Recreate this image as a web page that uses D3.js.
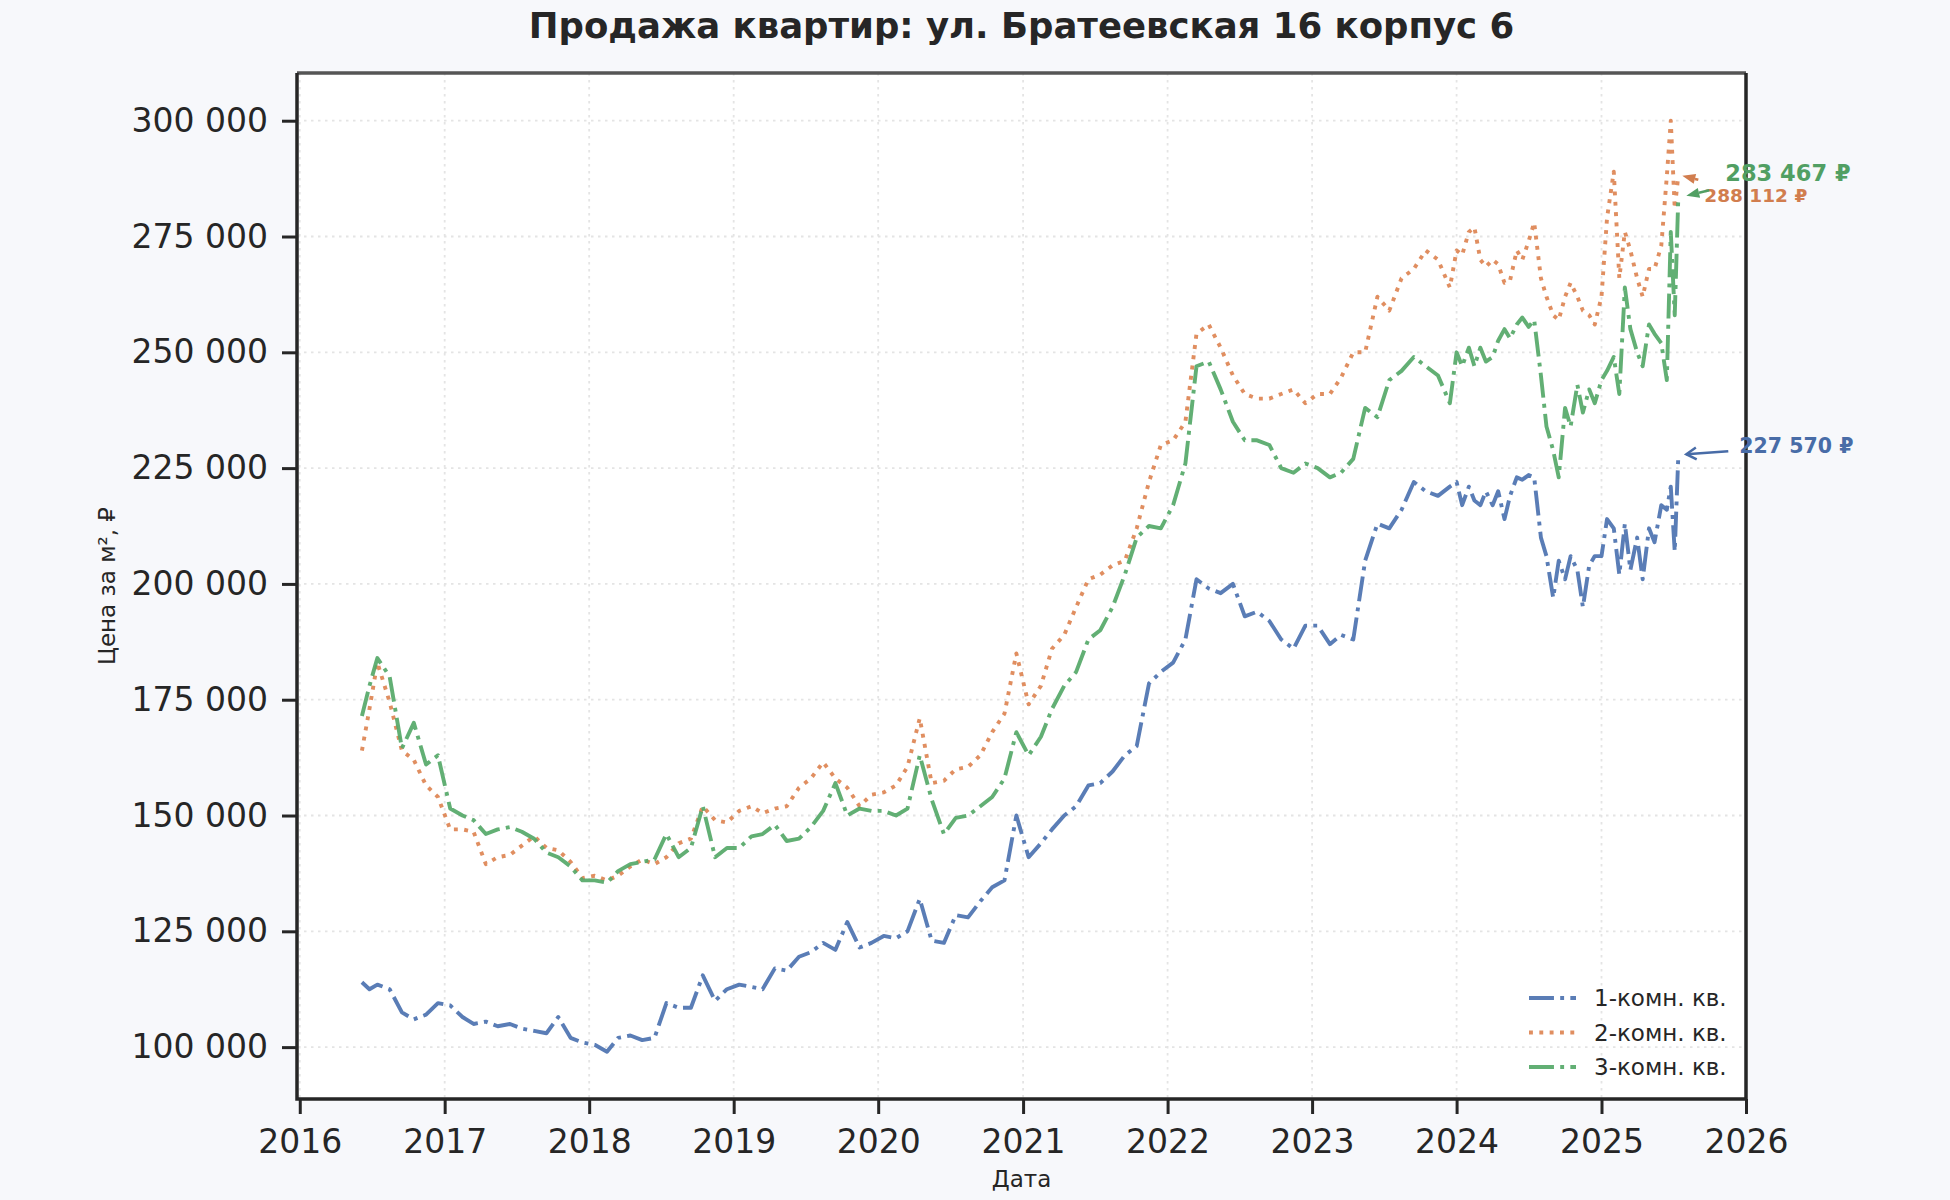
<!DOCTYPE html>
<html>
<head>
<meta charset="utf-8">
<script src="https://cdn.jsdelivr.net/npm/d3@7"></script>
<style>
  html, body { margin: 0; padding: 0; background: #f7f8fb; }
  svg { display: block; font-family: "DejaVu Sans", sans-serif; }
</style>
</head>
<body>
<svg id="chart" width="1950" height="1200"></svg>
<script>
// --- data (prices per m², thousands of rubles) ---
const title = "Продажа квартир: ул. Братеевская 16 корпус 6";
const seriesNames = ["1-комн. кв.", "2-комн. кв.", "3-комн. кв."];

const dates = [
  "2016-06-06", "2016-06-25", "2016-07-15", "2016-08-15", "2016-09-15", "2016-10-15", "2016-11-15", "2016-12-15",
  "2017-01-15", "2017-02-15", "2017-03-15", "2017-04-15", "2017-05-15", "2017-06-15", "2017-07-15", "2017-08-15", "2017-09-15", "2017-10-15", "2017-11-15", "2017-12-15",
  "2018-01-15", "2018-02-15", "2018-03-15", "2018-04-15", "2018-05-15", "2018-06-15", "2018-07-15", "2018-08-15", "2018-09-15", "2018-10-15", "2018-11-15", "2018-12-15",
  "2019-01-15", "2019-02-15", "2019-03-15", "2019-04-15", "2019-05-15", "2019-06-15", "2019-07-15", "2019-08-15", "2019-09-15", "2019-10-15", "2019-11-15", "2019-12-15",
  "2020-01-15", "2020-02-15", "2020-03-15", "2020-04-15", "2020-05-15", "2020-06-15", "2020-07-15", "2020-08-15", "2020-09-15", "2020-10-15", "2020-11-15", "2020-12-15",
  "2021-01-15", "2021-02-15", "2021-03-15", "2021-04-15", "2021-05-15", "2021-06-15", "2021-07-15", "2021-08-15", "2021-09-15", "2021-10-15", "2021-11-15", "2021-12-15",
  "2022-01-15", "2022-02-15", "2022-03-15", "2022-04-15", "2022-05-15", "2022-06-15", "2022-07-15", "2022-08-15", "2022-09-15", "2022-10-15", "2022-11-15", "2022-12-15",
  "2023-01-15", "2023-02-15", "2023-03-15", "2023-04-15", "2023-05-15", "2023-06-15", "2023-07-15", "2023-08-15", "2023-09-15", "2023-10-15", "2023-11-15", "2023-12-15",
  "2024-01-01", "2024-01-15", "2024-02-01", "2024-02-15", "2024-03-01", "2024-03-15", "2024-04-01", "2024-04-15", "2024-05-01", "2024-05-15", "2024-06-01", "2024-06-15",
  "2024-07-01", "2024-07-15", "2024-08-01", "2024-08-15", "2024-09-01", "2024-09-15", "2024-10-01", "2024-10-15", "2024-11-01", "2024-11-15", "2024-12-01", "2024-12-15",
  "2025-01-01", "2025-01-15", "2025-02-01", "2025-02-15", "2025-03-01", "2025-03-15", "2025-04-01", "2025-04-15", "2025-05-01", "2025-05-15",
  "2025-06-01", "2025-06-15", "2025-06-25", "2025-07-05", "2025-07-14"
];

const room1 = [
  114, 112.5, 113.5, 112.5, 107.5, 106, 107, 109.5,
  109, 106.5, 105, 105.5, 104.5, 105, 104, 103.5, 103, 106.5, 102, 101,
  100.5, 99, 102, 102.5, 101.5, 102, 109.5, 108.5, 108.5, 115.5, 110, 112.5,
  113.5, 113, 112.5, 117, 116.5, 119.5, 120.5, 122.5, 121, 127, 121.5, 122.5,
  124, 123.5, 125, 132, 123, 122.5, 128.5, 128, 131.5, 134.5, 136, 150,
  141, 144, 147, 150, 152, 156.5, 157, 159.5, 163, 165, 178.5, 181,
  183, 188, 201, 199, 198, 200, 193, 194, 192, 188, 186, 191,
  191, 187, 189, 188, 205, 213, 212, 216, 222, 220, 219, 221,
  222, 217, 221, 218, 217, 220, 217, 220, 214, 219, 223, 222.5,
  223.5, 223, 210, 206, 197, 205, 201, 206, 203, 195, 204, 206,
  206, 214, 212, 202, 213, 203, 210, 201, 212, 209,
  217, 216, 221, 207, 227.57
];

const room2 = [
  164, 173, 183, 174.5, 164, 162, 156.5, 154,
  147, 147, 146.5, 139.5, 141, 141.5, 143.5, 145.5, 143, 142.5, 140, 136.5,
  137, 136, 137, 139, 140.5, 139.5, 141, 144, 145, 152, 149, 148.5,
  151, 152, 150.5, 151.5, 152, 156, 158, 161.5, 158, 156, 152, 154.5,
  155, 156.5, 160.5, 171, 157, 157.5, 160, 160.5, 163, 168, 172, 185,
  174, 178, 186, 189, 195, 201, 202, 204, 205, 212, 222, 230,
  231, 235, 254, 256, 251, 245, 241, 240, 240, 241, 242, 239,
  241, 241, 244.5, 250, 250, 262, 259, 266, 268, 272, 270, 264,
  272, 271, 276, 277, 270, 268.5, 270, 269, 265, 265.5, 272, 270,
  274, 278, 266, 262, 258, 257, 262, 265, 262, 259, 258, 256,
  262, 279, 289, 266, 276, 272, 266, 262, 268, 268,
  273, 288, 300, 281, 288.112
];

const room3 = [
  171.5, 178, 184, 180, 164.5, 170, 161, 163,
  151.5, 150, 149, 146, 147, 147.5, 146.5, 145, 142, 141, 139, 136,
  136, 135.5, 138, 139.5, 140, 140.5, 146, 141, 143, 152, 141, 143,
  143, 145.5, 146, 148, 144.5, 145, 147.5, 151, 157, 150, 151.5, 151,
  151, 150, 151.5, 163, 153.5, 146, 149.5, 150, 152, 154, 158, 168,
  163, 167, 173, 178, 181, 188, 190, 195, 202, 210, 212.5, 212,
  217, 226, 247, 248, 242, 235, 231, 231, 230, 225, 224, 226,
  225, 223, 224, 227, 238, 236, 244, 246, 249, 247, 245, 239,
  250, 247, 251, 247, 251, 248, 249, 252.5, 255, 253, 256, 257.5,
  255.5, 257, 245, 234, 228.8, 223, 238, 234, 243, 237, 242, 239,
  244, 246, 249, 241, 264, 255, 250, 247, 256, 254,
  252, 244, 276, 258, 283.467
];

const yTicks = [100000, 125000, 150000, 175000, 200000, 225000, 250000, 275000, 300000];
const xTickYears = [2016, 2017, 2018, 2019, 2020, 2021, 2022, 2023, 2024, 2025, 2026];

// --- layout ---
const W = 1950, H = 1200;
const plot = { left: 297, top: 73, right: 1746, bottom: 1099 };
const ink = "#262626";
const lw = 3.9;

const styles = [
  { color: "#4c72b0", dash: [6.4 * lw, 1.6 * lw, 1 * lw, 1.6 * lw] },
  { color: "#dd8452", dash: [1 * lw, 1.65 * lw] },
  { color: "#55a868", dash: [6.4 * lw, 1.6 * lw, 1 * lw, 1.6 * lw] }
];

const parse = d3.timeParse("%Y-%m-%d");
const dateObjs = dates.map(parse);
const series = [room1, room2, room3].map((vals, i) => ({
  name: seriesNames[i],
  points: vals.map((v, j) => ({ date: dateObjs[j], value: v * 1000 }))
}));

const x = d3.scaleTime()
  .domain([new Date(2015, 11, 25), new Date(2026, 0, 1)])
  .range([plot.left, plot.right]);
const y = d3.scaleLinear()
  .domain([88800, 310300])
  .range([plot.bottom, plot.top]);

const fmt = v => d3.format(",.0f")(v).replace(/,/g, " ");

const svg = d3.select("#chart");

svg.append("rect").attr("width", W).attr("height", H).attr("fill", "#f7f8fb");
svg.append("rect")
  .attr("x", plot.left).attr("y", plot.top)
  .attr("width", plot.right - plot.left).attr("height", plot.bottom - plot.top)
  .attr("fill", "#ffffff");

const defs = svg.append("defs");
defs.append("clipPath").attr("id", "clip")
  .append("rect")
  .attr("x", plot.left).attr("y", plot.top)
  .attr("width", plot.right - plot.left).attr("height", plot.bottom - plot.top);

// grid
const grid = svg.append("g").attr("class", "grid")
  .attr("stroke", "#e4e4e4").attr("stroke-width", 1.8).attr("stroke-dasharray", "2.5,4.5");
grid.selectAll("line.h").data(yTicks).enter().append("line")
  .attr("x1", plot.left).attr("x2", plot.right)
  .attr("y1", d => y(d)).attr("y2", d => y(d));
grid.selectAll("line.v").data(xTickYears).enter().append("line")
  .attr("x1", d => x(new Date(d, 0, 1))).attr("x2", d => x(new Date(d, 0, 1)))
  .attr("y1", plot.top).attr("y2", plot.bottom);

// lines
const line = d3.line().x(d => x(d.date)).y(d => y(d.value));
svg.append("g").attr("clip-path", "url(#clip)")
  .selectAll("path").data(series).enter().append("path")
  .attr("d", d => line(d.points))
  .attr("fill", "none")
  .attr("stroke", (d, i) => styles[i].color)
  .attr("stroke-opacity", 0.92)
  .attr("stroke-width", lw)
  .attr("stroke-linejoin", "round")
  .attr("stroke-dasharray", (d, i) => styles[i].dash.join(","));

// axes
const yAxis = svg.append("g")
  .attr("transform", `translate(${plot.left},0)`)
  .call(d3.axisLeft(y).tickValues(yTicks).tickSize(15).tickPadding(14).tickFormat(fmt));
const xAxis = svg.append("g")
  .attr("transform", `translate(0,${plot.bottom})`)
  .call(d3.axisBottom(x).tickValues(xTickYears.map(d => new Date(d, 0, 1)))
    .tickSize(15).tickPadding(16).tickFormat(d3.timeFormat("%Y")));
[yAxis, xAxis].forEach(a => {
  a.select(".domain").remove();
  a.selectAll(".tick line").attr("stroke", ink).attr("stroke-width", 3);
  a.selectAll(".tick text").attr("fill", ink).attr("font-size", 33)
    .attr("font-family", "DejaVu Sans, sans-serif");
});

// frame
svg.append("line").attr("x1", plot.left).attr("x2", plot.right)
  .attr("y1", plot.top).attr("y2", plot.top)
  .attr("stroke", "#555555").attr("stroke-width", 3.5);
svg.append("path")
  .attr("d", `M${plot.left},${plot.top}V${plot.bottom}H${plot.right}V${plot.top}`)
  .attr("fill", "none").attr("stroke", ink).attr("stroke-width", 3.5);

// titles
svg.append("text")
  .attr("x", (plot.left + plot.right) / 2).attr("y", 38)
  .attr("text-anchor", "middle").attr("font-size", 35.5).attr("font-weight", "bold")
  .attr("fill", ink).text(title);
svg.append("text")
  .attr("x", (plot.left + plot.right) / 2).attr("y", 1187)
  .attr("text-anchor", "middle").attr("font-size", 23).attr("fill", ink)
  .text("Дата");
svg.append("text")
  .attr("transform", `translate(115,${(plot.top + plot.bottom) / 2}) rotate(-90)`)
  .attr("text-anchor", "middle").attr("font-size", 23).attr("fill", ink)
  .text("Цена за м², ₽");

// legend
const legend = svg.append("g").attr("transform", "translate(1529,998)");
const item = legend.selectAll("g").data(series).enter().append("g")
  .attr("transform", (d, i) => `translate(0,${i * 34.5})`);
item.append("line")
  .attr("x1", 0).attr("x2", 47).attr("y1", 0).attr("y2", 0)
  .attr("stroke", (d, i) => styles[i].color).attr("stroke-opacity", 0.92)
  .attr("stroke-width", lw)
  .attr("stroke-dasharray", (d, i) => styles[i].dash.join(","));
item.append("text")
  .attr("x", 65).attr("y", 0).attr("dy", "0.36em")
  .attr("font-size", 23).attr("fill", ink)
  .text(d => d.name);

// end-value annotations
const notes = [
  { i: 0, dx: 61, dy: -11, size: 20.5, tail: [50, -5], tip: [8, -2], head: "open" },
  { i: 1, dx: 26, dy: 20, size: 18.5, tail: [20, 4], tip: [4, 0], head: "fill" },
  { i: 2, dx: 47, dy: -24, size: 22.5, tail: [31, -7], tip: [8, -1.5], head: "fill" }
];
notes.forEach(n => {
  const s = series[n.i];
  const last = s.points[s.points.length - 1];
  const px = x(last.date), py = y(last.value);
  const color = d3.color(styles[n.i].color).darker(0.15);
  const tx = px + n.tail[0], ty = py + n.tail[1];
  const hx = px + n.tip[0], hy = py + n.tip[1];
  const ang = Math.atan2(hy - ty, hx - tx);
  const hl = n.head === "open" ? 10 : 13, hw = n.head === "open" ? 6 : 5;
  const bx = hx - hl * Math.cos(ang), by = hy - hl * Math.sin(ang);
  const ox = -Math.sin(ang) * hw, oy = Math.cos(ang) * hw;
  svg.append("line")
    .attr("x1", tx).attr("y1", ty)
    .attr("x2", n.head === "open" ? hx : bx).attr("y2", n.head === "open" ? hy : by)
    .attr("stroke", color).attr("stroke-width", 2.5);
  if (n.head === "open") {
    svg.append("path")
      .attr("d", `M${bx + ox},${by + oy}L${hx},${hy}L${bx - ox},${by - oy}`)
      .attr("fill", "none").attr("stroke", color).attr("stroke-width", 2.5);
  } else {
    svg.append("path")
      .attr("d", `M${bx + ox},${by + oy}L${hx},${hy}L${bx - ox},${by - oy}Z`)
      .attr("fill", color);
  }
  svg.append("text")
    .attr("x", px + n.dx).attr("y", py + n.dy).attr("dy", "0.36em")
    .attr("font-size", n.size).attr("font-weight", "bold").attr("fill", color)
    .text(fmt(last.value) + " ₽");
});
</script>
</body>
</html>
